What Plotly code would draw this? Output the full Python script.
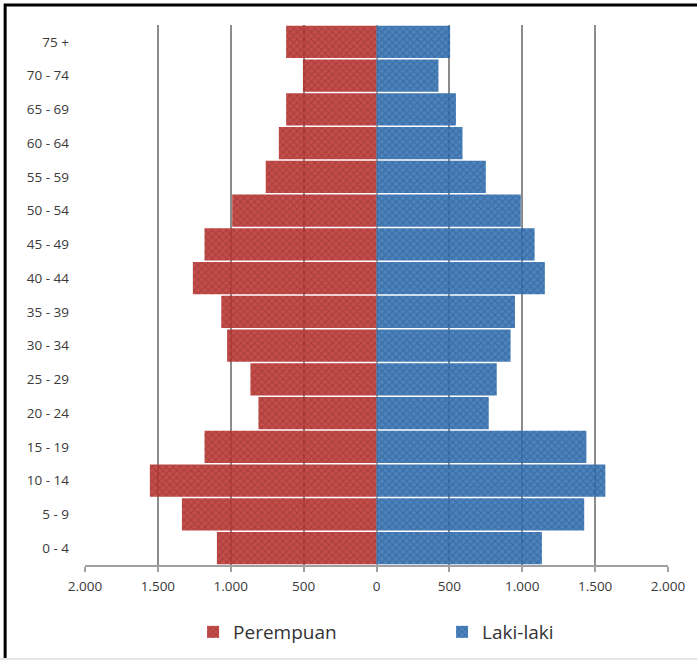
import plotly.graph_objects as go

age_groups = ["0 - 4", "5 - 9", "10 - 14", "15 - 19", "20 - 24", "25 - 29", "30 - 34",
              "35 - 39", "40 - 44", "45 - 49", "50 - 54", "55 - 59", "60 - 64",
              "65 - 69", "70 - 74", "75 +"]
perempuan = [1095, 1335, 1555, 1180, 810, 865, 1025, 1065, 1260, 1180, 990, 760, 670, 620, 505, 620]
laki_laki = [1135, 1425, 1570, 1440, 770, 825, 920, 950, 1155, 1085, 990, 750, 590, 545, 425, 505]

tick_vals = [-2000, -1500, -1000, -500, 0, 500, 1000, 1500, 2000]
tick_text = ["2.000", "1.500", "1.000", "500", "0", "500", "1.000", "1.500", "2.000"]

fig = go.Figure()
fig.add_trace(go.Bar(
    y=age_groups, x=[-v for v in perempuan], orientation="h", name="Perempuan",
    marker=dict(color="#bf3a36", line=dict(width=0),
                pattern=dict(shape="x", fgcolor="#761818", size=5, solidity=0.35)),
    opacity=0.9,
))
fig.add_trace(go.Bar(
    y=age_groups, x=laki_laki, orientation="h", name="Laki-laki",
    marker=dict(color="#3776b8", line=dict(width=0),
                pattern=dict(shape="x", fgcolor="#173e6c", size=5, solidity=0.35)),
    opacity=0.9,
))

fig.update_layout(
    width=697, height=660,
    margin=dict(l=85, r=27, t=25, b=95),
    paper_bgcolor="white", plot_bgcolor="white",
    barmode="overlay", bargap=0.04,
    font=dict(family="Open Sans", color="#3a3a3a", size=13),
    xaxis=dict(range=[-2000, 2000], tickvals=tick_vals, ticktext=tick_text,
               showgrid=True, gridcolor="#8c8c8c", gridwidth=2,
               zeroline=True, zerolinecolor="#a8a8a8", zerolinewidth=2,
               showline=True, linecolor="#a0a0a0", linewidth=2,
               ticks="outside", ticklen=5, tickcolor="#a0a0a0", tickwidth=2,
               ticklabelstandoff=3,
               tickfont=dict(size=13.5, color="#3a3a3a"), fixedrange=True),
    yaxis=dict(showgrid=False, showline=False, ticks="", ticklabelstandoff=15,
               tickfont=dict(size=13.5, color="#3a3a3a"), fixedrange=True),
    legend=dict(orientation="h", xref="container", yref="container",
                x=0.277, xanchor="left", y=0.0424, yanchor="middle",
                entrywidth=204, font=dict(size=19, color="#333333"), traceorder="normal"),
    showlegend=True,
    shapes=[
        dict(type="rect", xref="paper", yref="paper",
             x0=-0.137, x1=1.2, y0=-0.3, y1=1.037,
             line=dict(color="black", width=3), fillcolor="rgba(0,0,0,0)", layer="below"),
        dict(type="rect", xref="paper", yref="paper",
             x0=-0.2, x1=1.2, y0=-0.3, y1=-0.172,
             line=dict(width=0), fillcolor="#e6e6e6", layer="below"),
    ],
)

fig.write_html("out.html", config={"displayModeBar": False},
               post_script="document.body.style.margin='0';")
